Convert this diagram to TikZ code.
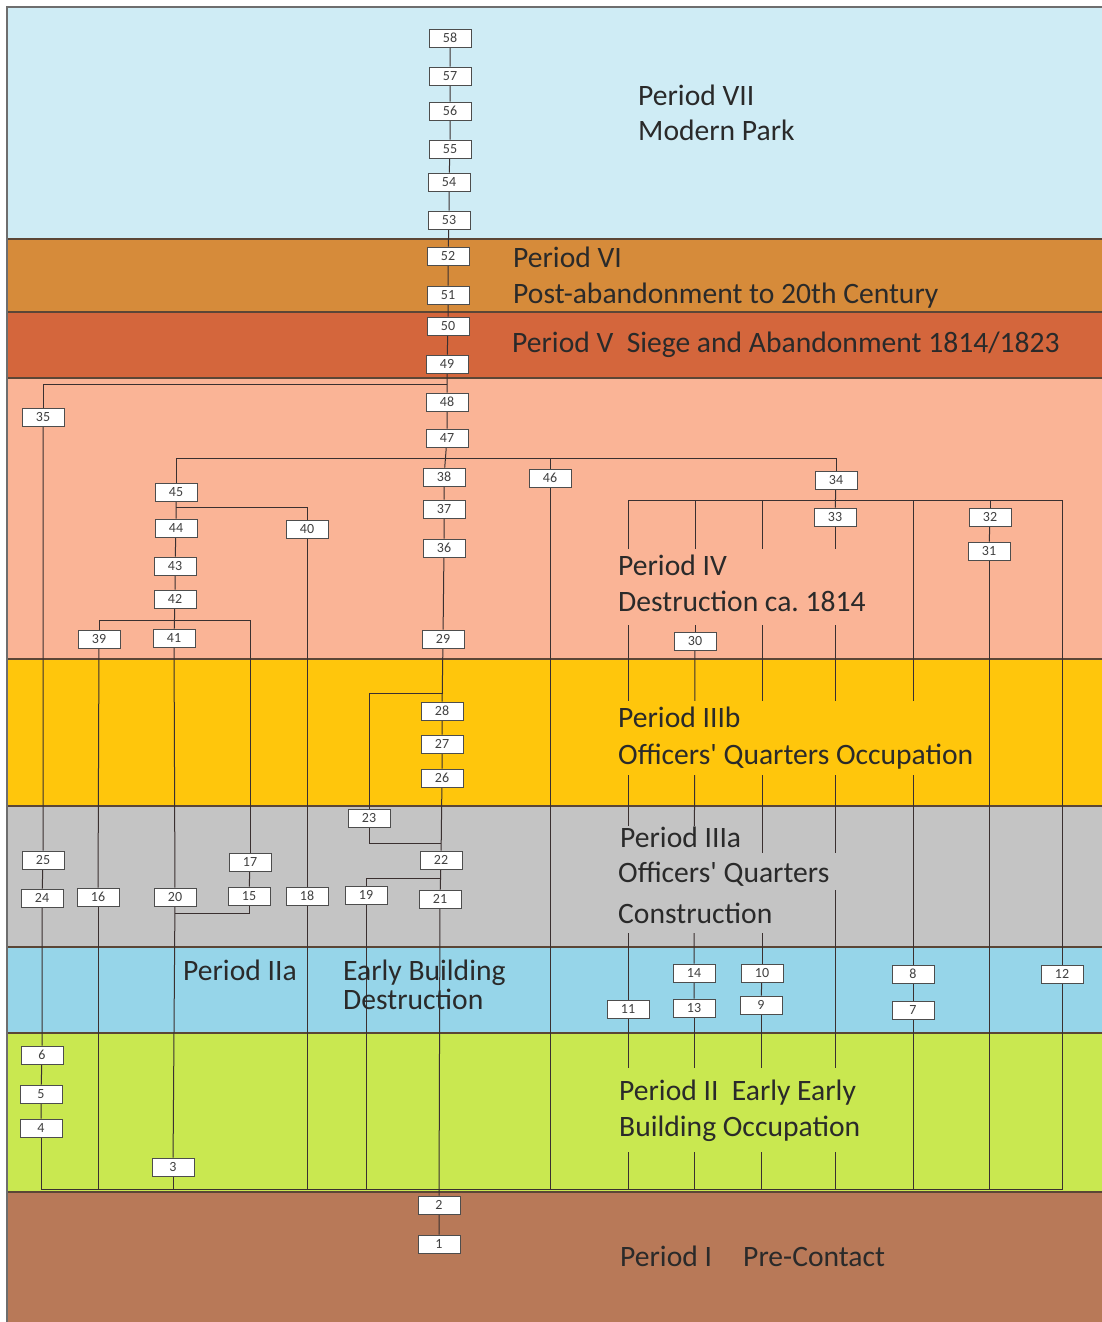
\documentclass[tikz,border=0pt]{standalone}
\usepackage{fontspec}
\setmainfont{Carlito}[Ligatures=TeXOff]
\usetikzlibrary{calc}
\definecolor{bandA}{HTML}{CFECF5}
\definecolor{bandB}{HTML}{D68B3A}
\definecolor{bandC}{HTML}{D4663C}
\definecolor{bandD}{HTML}{FAB496}
\definecolor{bandE}{HTML}{FFC60C}
\definecolor{bandF}{HTML}{C4C4C4}
\definecolor{bandG}{HTML}{96D5E9}
\definecolor{bandH}{HTML}{C9E850}
\definecolor{bandI}{HTML}{B87958}
\definecolor{sepc}{HTML}{5B4636}
\definecolor{edgec}{HTML}{6E6E6E}
\definecolor{linkc}{HTML}{3A3030}
\definecolor{boxline}{HTML}{4D4D4D}
\definecolor{numtxt}{HTML}{404040}
\definecolor{txtc}{HTML}{2A2A2A}
\pgfdeclarelayer{bands}
\pgfdeclarelayer{links}
\pgfsetlayers{bands,links,main}
\begin{document}
\begin{tikzpicture}[x=1pt,y=-1pt,
  numbox/.style={draw=boxline, fill=white, line width=0.9pt, minimum width=42pt, minimum height=18pt, inner sep=0pt, text=numtxt, font=\fontsize{14}{14}\selectfont},
  link/.style={draw=linkc, line width=1pt},
  ptext/.style={anchor=base west, inner sep=0pt, text=txtc, font=\fontsize{29.6}{29.6}\selectfont},
  sepline/.style={draw=sepc, line width=1.2pt}]
\useasboundingbox (0,0) rectangle (1102,1322);
% ---------------- bands
\begin{pgfonlayer}{bands}
\fill[white] (0,0) rectangle (1102,1322);
\fill[bandA] (7,7) rectangle (1102,239);
\fill[bandB] (7,239) rectangle (1102,312);
\fill[bandC] (7,312) rectangle (1102,378);
\fill[bandD] (7,378) rectangle (1102,659);
\fill[bandE] (7,659) rectangle (1102,806);
\fill[bandF] (7,806) rectangle (1102,947);
\fill[bandG] (7,947) rectangle (1102,1033);
\fill[bandH] (7,1033) rectangle (1102,1192);
\fill[bandI] (7,1192) rectangle (1102,1322);
\draw[sepline] (7,239) -- (1102,239);
\draw[sepline] (7,312) -- (1102,312);
\draw[sepline] (7,378) -- (1102,378);
\draw[sepline] (7,659) -- (1102,659);
\draw[sepline] (7,806) -- (1102,806);
\draw[sepline] (7,947) -- (1102,947);
\draw[sepline] (7,1033) -- (1102,1033);
\draw[sepline] (7,1192) -- (1102,1192);
\draw[edgec, line width=1.2pt] (7,1322) -- (7,7) -- (1102,7);
\end{pgfonlayer}
% ---------------- junction rows
\coordinate (y384) at (0,384);
\coordinate (y458) at (0,458);
\coordinate (y500) at (0,500);
\coordinate (y507) at (0,507);
\coordinate (y620) at (0,620);
\coordinate (y693) at (0,693);
\coordinate (y843) at (0,843);
\coordinate (y878) at (0,878);
\coordinate (y913) at (0,913);
\coordinate (y1189) at (0,1189);
% ---------------- text backgrounds (hide lines behind labels)
\fill[bandD] (613,549) rectangle (872,625);
\fill[bandE] (613,701) rectangle (985,775);
\fill[bandF] (615,826) rectangle (745,853);
\fill[bandF] (613,853) rectangle (840,890);
\fill[bandF] (613,890) rectangle (780,933);
\fill[bandH] (612,1068) rectangle (870,1152);
% ---------------- labels
\node[ptext] (tVIIa) at (638,105) {Period VII};
\node[ptext] (tVIIb) at (638,140) {Modern Park};
\node[ptext] (tVIa) at (513,267) {Period VI};
\node[ptext] (tVIb) at (513,303) {Post-abandonment to 20th Century};
\node[ptext] (tV) at (512,352) {Period V\ \ Siege and Abandonment 1814/1823};
\node[ptext] (tIVa) at (618,575) {Period IV};
\node[ptext] (tIVb) at (618,611) {Destruction ca.\ 1814};
\node[ptext] (tIIIba) at (618,727) {Period IIIb};
\node[ptext] (tIIIbb) at (618,764) {Officers' Quarters Occupation};
\node[ptext] (tIIIaa) at (620,847) {Period IIIa};
\node[ptext] (tIIIab) at (618,882) {Officers' Quarters};
\node[ptext] (tIIIac) at (618,923) {Construction};
\node[ptext] (tIIa) at (183,980) {Period IIa};
\node[ptext] (tEBa) at (343,980) {Early Building};
\node[ptext] (tEBb) at (343,1009) {Destruction};
\node[ptext] (tIIa2) at (619,1100) {Period II\ \ Early Early};
\node[ptext] (tIIb2) at (619,1136) {Building Occupation};
\node[ptext] (tIa) at (620,1266) {Period I};
\node[ptext] (tIb) at (743,1266) {Pre-Contact};
% ---------------- context boxes
\node[numbox] (n58) at (450,38) {58};
\node[numbox] (n57) at (450,76) {57};
\node[numbox] (n56) at (450,111) {56};
\node[numbox] (n55) at (450,149) {55};
\node[numbox] (n54) at (449,182) {54};
\node[numbox] (n53) at (449,220) {53};
\node[numbox] (n52) at (448,256) {52};
\node[numbox] (n51) at (448,295) {51};
\node[numbox] (n50) at (448,326) {50};
\node[numbox] (n49) at (447,364) {49};
\node[numbox] (n48) at (447,402) {48};
\node[numbox] (n47) at (447,438) {47};
\node[numbox] (n38) at (444,477) {38};
\node[numbox] (n37) at (444,509) {37};
\node[numbox] (n36) at (444,548) {36};
\node[numbox] (n29) at (443,639) {29};
\node[numbox] (n28) at (442,711) {28};
\node[numbox] (n27) at (442,744) {27};
\node[numbox] (n26) at (442,778) {26};
\node[numbox] (n22) at (441,860) {22};
\node[numbox] (n21) at (440,899) {21};
\node[numbox] (n2) at (439,1205) {2};
\node[numbox] (n1) at (439,1244) {1};
\node[numbox] (n35) at (43,417) {35};
\node[numbox] (n45) at (176,492) {45};
\node[numbox] (n44) at (176,528) {44};
\node[numbox] (n43) at (175,566) {43};
\node[numbox] (n42) at (175,599) {42};
\node[numbox] (n41) at (174,638) {41};
\node[numbox] (n39) at (99,639) {39};
\node[numbox] (n40) at (307,529) {40};
\node[numbox] (n46) at (550,478) {46};
\node[numbox] (n34) at (836,480) {34};
\node[numbox] (n33) at (835,517) {33};
\node[numbox] (n32) at (990,517) {32};
\node[numbox] (n31) at (989,551) {31};
\node[numbox] (n30) at (695,641) {30};
\node[numbox] (n23) at (369,818) {23};
\node[numbox] (n25) at (43,860) {25};
\node[numbox] (n24) at (42,898) {24};
\node[numbox] (n16) at (98,897) {16};
\node[numbox] (n20) at (175,897) {20};
\node[numbox] (n17) at (250,862) {17};
\node[numbox] (n15) at (249,896) {15};
\node[numbox] (n18) at (307,896) {18};
\node[numbox] (n19) at (366,895) {19};
\node[numbox] (n6) at (42,1055) {6};
\node[numbox] (n5) at (41,1094) {5};
\node[numbox] (n4) at (41,1128) {4};
\node[numbox] (n3) at (173,1167) {3};
\node[numbox] (n14) at (694,973) {14};
\node[numbox] (n10) at (762,973) {10};
\node[numbox] (n13) at (694,1008) {13};
\node[numbox] (n9) at (761,1005) {9};
\node[numbox] (n11) at (628,1009) {11};
\node[numbox] (n8) at (913,974) {8};
\node[numbox] (n7) at (913,1010) {7};
\node[numbox] (n12) at (1062,974) {12};
% ---------------- connectors
\begin{pgfonlayer}{links}
\draw[link] (n58)--(n57)--(n56)--(n55)--(n54)--(n53)--(n52)--(n51)--(n50)--(n49)--(n48)--(n47)--(n38)--(n37)--(n36)--(n29)--(n28)--(n27)--(n26)--(n22)--(n21)--(n2)--(n1);
% left column
\draw[link] (n49 |- y384) -| (n35);
\draw[link] (n35)--(n25)--(n24)--(n6)--(n5)--(n4);
% bottom collector
\draw[link] (n4) |- (n12 |- y1189) -- (n12);
\foreach \k in {16,3,18,19,46,11,13,9,33,7,31}{\draw[link] (n\k) -- (n\k |- y1189);}
% branch below 47
\draw[link] (n45) |- (n34 |- y458) -- (n34);
\draw[link] (n46) -- (n46 |- y458);
% branch below 45
\draw[link] (n45 |- y507) -| (n40);
\draw[link] (n45)--(n44)--(n43)--(n42)--(n41)--(n20)--(n3);
% branch below 42
\draw[link] (n39) |- (n17 |- y620) -- (n17);
\draw[link] (n39) -- (n16);
\draw[link] (n40) -- (n18);
\draw[link] (n17) -- (n15);
\draw[link] (n15) |- (n20 |- y913);
% branch below 34
\draw[link] (n34) -- (n33);
\draw[link] (n11) |- (n12 |- y500) -- (n12);
\foreach \k in {30,10,8,32}{\draw[link] (n\k) -- (n\k |- y500);}
\draw[link] (n30)--(n14)--(n13);
\draw[link] (n10)--(n9);
\draw[link] (n8)--(n7);
\draw[link] (n32)--(n31);
% branches around 23 and 19
\draw[link] (n29 |- y693) -| (n23);
\draw[link] (n23) |- (n22 |- y843);
\draw[link] (n22 |- y878) -| (n19);
\end{pgfonlayer}
\end{tikzpicture}
\end{document}
